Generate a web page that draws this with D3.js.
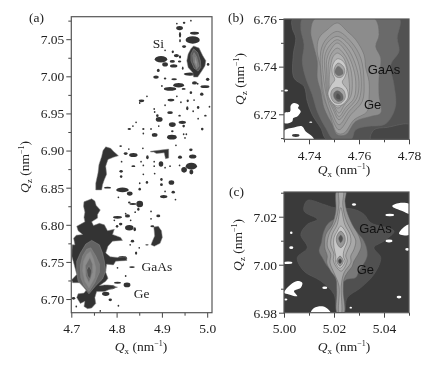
<!DOCTYPE html>
<html>
<head>
<meta charset="utf-8">
<script src="https://cdn.jsdelivr.net/npm/d3@7"></script>
<style>
  html, body { margin: 0; background: #fff; }
  svg { display: block; filter: blur(0.35px); }
  text { font-family: "Liberation Serif", serif; font-size: 13.5px; fill: #222; }
  text.sans { font-family: "Liberation Sans", sans-serif; font-size: 13px; fill: #111; }
</style>
</head>
<body>
<script>
// everything below is [Qx, Qz] or [Qx, Qz, dQx, dQz] in nm^-1

// (a) the two big peaks
var aGaAsOuter = [[4.728,6.831],[4.745,6.835],[4.752,6.832],[4.755,6.826],[4.764,6.820],[4.758,6.814],[4.758,6.809],[4.745,6.804],[4.749,6.799],[4.762,6.802],[4.773,6.800],[4.780,6.792],[4.795,6.794],[4.791,6.787],[4.809,6.783],[4.813,6.779],[4.791,6.778],[4.781,6.771],[4.776,6.762],[4.786,6.757],[4.802,6.756],[4.820,6.757],[4.823,6.752],[4.798,6.751],[4.793,6.746],[4.778,6.747],[4.776,6.736],[4.781,6.728],[4.776,6.724],[4.762,6.718],[4.773,6.719],[4.781,6.719],[4.791,6.718],[4.802,6.716],[4.784,6.713],[4.773,6.710],[4.756,6.710],[4.752,6.702],[4.754,6.694],[4.745,6.688],[4.736,6.687],[4.728,6.690],[4.730,6.697],[4.720,6.694],[4.712,6.702],[4.715,6.707],[4.728,6.708],[4.734,6.713],[4.721,6.722],[4.703,6.722],[4.701,6.726],[4.712,6.733],[4.706,6.747],[4.701,6.758],[4.702,6.773],[4.708,6.773],[4.705,6.782],[4.711,6.786],[4.725,6.787],[4.715,6.792],[4.712,6.798],[4.721,6.801],[4.730,6.804],[4.728,6.810],[4.730,6.817],[4.727,6.825]]
var aGaAs1 = [[4.745,6.779],[4.762,6.773],[4.769,6.762],[4.773,6.751],[4.776,6.738],[4.769,6.727],[4.754,6.718],[4.739,6.707],[4.727,6.716],[4.715,6.724],[4.712,6.736],[4.712,6.751],[4.720,6.762],[4.732,6.774]]
var aGaAs2 = [[4.743,6.769],[4.754,6.758],[4.762,6.747],[4.762,6.736],[4.752,6.722],[4.739,6.710],[4.728,6.718],[4.721,6.729],[4.720,6.745],[4.725,6.758],[4.734,6.767]]
var aGaAs3 = [[4.742,6.764],[4.749,6.754],[4.754,6.742],[4.752,6.729],[4.739,6.715],[4.730,6.724],[4.725,6.738],[4.727,6.751],[4.734,6.760]]
var aGaAs4 = [[4.741,6.756],[4.747,6.747],[4.747,6.736],[4.739,6.722],[4.732,6.731],[4.731,6.745]]
var aGaAs5 = [[4.739,6.745],[4.745,6.738],[4.742,6.727],[4.736,6.731],[4.734,6.739]]
var aCrescent = [[4.776,6.905],[4.787,6.903],[4.793,6.899],[4.804,6.893],[4.793,6.891],[4.781,6.888],[4.776,6.879],[4.778,6.868],[4.773,6.861],[4.769,6.854],[4.767,6.847],[4.754,6.847],[4.754,6.856],[4.759,6.870],[4.761,6.881],[4.767,6.892],[4.770,6.900]]
var aSiOuter = [[4.970,7.041],[4.982,7.038],[4.990,7.028],[4.997,7.021],[4.995,7.014],[4.988,7.007],[4.979,6.999],[4.970,6.999],[4.968,7.005],[4.958,7.012],[4.955,7.021],[4.958,7.030],[4.964,7.037]]
var aSi1 = [[4.970,7.037],[4.979,7.032],[4.985,7.021],[4.986,7.012],[4.980,7.007],[4.971,7.011],[4.964,7.021],[4.964,7.030]]
var aSi2 = [[4.971,7.032],[4.977,7.026],[4.982,7.014],[4.977,7.010],[4.970,7.019],[4.968,7.028]]
var aSi3 = [[4.973,7.026],[4.977,7.019],[4.977,7.013],[4.973,7.019]]
var aShoulder = [[4.882,6.797],[4.892,6.798],[4.899,6.792],[4.901,6.783],[4.896,6.775],[4.883,6.771],[4.876,6.773],[4.879,6.778],[4.884,6.785],[4.883,6.792]]

// (a) the scattered speckle
var aSpots = [[4.939,7.065,.012,.0045],[4.949,7.072,.0045,.0022],[4.933,7.071,.003,.002],[4.964,7.075],[4.940,7.056,.004,.006],[4.940,7.048,.003,.0035],[4.972,7.058,.016,.003],[4.968,7.049,.025,.008],[4.949,7.040,.007,.003],[4.907,7.035],[4.924,7.033,.004,.003],[4.932,7.028,.009,.0035],[4.940,7.026,.004,.003],[4.939,7.020,.006,.002],[4.898,7.023,.022,.007],[4.907,7.016,.010,.0045],[4.923,7.020,.009,.003],[4.926,7.014,.013,.0035],[4.892,7.008,.005,.0035],[4.946,7.011,.003,.0035],[4.887,6.999,.010,.0035],[4.907,6.997,.0045,.002],[4.927,6.996,.010,.002],[4.918,6.983,.022,.004],[4.937,6.988,.019,.005],[4.948,6.983,.007,.002],[4.900,6.987],[4.964,6.978,.0045,.003],[4.972,6.991,.009,.0035],[4.962,7.003,.022,.0035],[4.995,6.986,.016,.003],[4.988,6.976,.006,.0035],[5.001,6.996,.006,.0035],[5.002,7.016,.0045,.003],[4.957,6.967,.004,.003],[4.920,6.968,.012,.003],[4.855,6.967,.010,.003],[4.867,6.973],[4.851,6.964],[4.979,6.990],[4.933,6.973],[4.907,6.961],[4.883,6.956],[4.884,6.952],[4.890,6.947,.0045,.003],[4.918,6.951,.010,.003],[4.939,6.947,.0045,.002],[4.956,6.957,.004,.0045],[4.980,6.958,.0045,.003],[5.005,6.959],[4.996,6.947,.0045,.002],[4.971,6.968],[4.942,6.965],[4.969,6.953],
  [4.894,6.942,.012,.005],[4.923,6.935,.012,.005],[4.945,6.938,.013,.0035],[4.948,6.933,.0045,.003],[4.980,6.943],[4.989,6.929,.0045,.003],[4.828,6.929,.006,.002],[4.836,6.933],[4.843,6.938],[4.859,6.929,.004,.002],[4.859,6.923,.003,.002],[4.876,6.929],[4.884,6.921,.010,.004],[4.923,6.926,.0045,.002],[4.922,6.918,.017,.005],[4.948,6.922],[4.954,6.922],[4.951,6.917],[4.893,6.933],[4.809,6.906,.0045,.002],[4.820,6.896,.007,.003],[4.837,6.894,.015,.0045],[4.827,6.902],[4.858,6.903],[4.868,6.891,.0045,.0045],[4.854,6.885],[4.837,6.879,.007,.002],[4.811,6.885],[4.810,6.872,.006,.003],[4.810,6.865,.0045,.003],[4.859,6.880],[4.859,6.868],[4.898,6.882,.008,.006],[4.883,6.885],[4.883,6.879],[4.907,6.877],[4.918,6.879],[4.884,6.869],[4.931,6.907],[4.940,6.891,.007,.0035],[4.964,6.901,.006,.003],[4.968,6.892,.013,.0045],[4.939,6.880],[4.949,6.874,.010,.006],[4.965,6.871,.007,.005],[4.965,6.879,.02,.0075],[4.780,6.850,.012,.002],[4.813,6.847,.022,.005],[4.829,6.842,.010,.0045],[4.804,6.837],[4.851,6.848,.0045,.003],[4.867,6.857,.0045,.003],[4.851,6.856],[4.899,6.861,.0045,.003],[4.899,6.854,.005,.003],[4.921,6.857,.010,.005],[4.907,6.845],[4.925,6.844,.006,.003],[4.904,6.838,.013,.0035],[4.930,6.834],[4.828,6.830,.0045,.002],[4.836,6.828,.012,.002],[4.851,6.828,.012,.007],[4.848,6.821,.004,.0035],[4.841,6.817],[4.876,6.818],[4.820,6.815],
  [4.802,6.810,.016,.003],[4.824,6.812,.009,.0035],[4.831,6.806],[4.809,6.801,.006,.003],[4.828,6.796,.015,.006],[4.840,6.794,.0045,.0045],[4.801,6.798,.0045,.003],[4.795,6.806],[4.835,6.778,.006,.003],[4.830,6.773],[4.850,6.769],[4.867,6.773,.006,.0015],[4.879,6.798,.007,.002],[4.876,6.808],[4.892,6.812,.007,.003],[4.843,6.762,.004,.0035],[4.813,6.755,.016,.005],[4.834,6.743,.010,.002],[4.802,6.742],[4.820,6.731],[4.802,6.722,.012,.002],[4.787,6.716,.015,.0045],[4.823,6.719,.012,.005],[4.776,6.707,.013,.0045],[4.786,6.699,.006,.003],[4.705,6.701,.006,.003],[4.711,6.690],[4.764,6.684],[4.804,6.691]]
// thin two-line streak near 6.90
var aStreak = [[4.875,6.899],[4.915,6.902],[4.915,6.890],[4.908,6.889],[4.905,6.897],[4.888,6.896],[4.882,6.898],[4.875,6.898]]

var aLevels = [aGaAsOuter, aCrescent, aShoulder, aStreak, aSiOuter, aGaAs1, aSi1, aGaAs2, aSi2, aGaAs3, aSi3, aGaAs4, aGaAs5]
var aGreys = ['#333', '#333', '#333', '#333', '#333', '#636363', '#5a5a5a', '#7a7a7a', '#777', '#8c8c8c', '#999', '#6e6e6e', '#4d4d4d']

// (b) contour levels, outermost first
var b1 = [[4.7337,6.7604],[4.7333,6.7562],[4.7347,6.7520],[4.7337,6.7450],[4.7340,6.7352],[4.7380,6.7317],[4.7393,6.7254],[4.7413,6.7198],[4.7447,6.7142],[4.7473,6.7092],[4.7804,6.7092],[4.7804,6.7604]]
var bCorner = [[4.7647,6.7092],[4.7660,6.7135],[4.7713,6.7145],[4.7804,6.7156],[4.7804,6.7092]]
var b2 = [[4.7377,6.7604],[4.7367,6.7562],[4.7380,6.7492],[4.7373,6.7422],[4.7387,6.7352],[4.7413,6.7282],[4.7433,6.7212],[4.7467,6.7142],[4.7500,6.7092],[4.7567,6.7092],[4.7587,6.7135],[4.7633,6.7149],[4.7700,6.7156],[4.7727,6.7184],[4.7747,6.7240],[4.7740,6.7324],[4.7727,6.7408],[4.7760,6.7464],[4.7753,6.7520],[4.7760,6.7604]]
var b3 = [[4.7427,6.7604],[4.7407,6.7548],[4.7417,6.7492],[4.7433,6.7422],[4.7433,6.7352],[4.7447,6.7296],[4.7460,6.7226],[4.7493,6.7156],[4.7513,6.7114],[4.7547,6.7114],[4.7587,6.7170],[4.7647,6.7191],[4.7687,6.7205],[4.7680,6.7282],[4.7680,6.7352],[4.7687,6.7436],[4.7667,6.7485],[4.7680,6.7534],[4.7660,6.7604]]
var b4 = [[4.7513,6.7583],[4.7473,6.7555],[4.7440,6.7520],[4.7433,6.7464],[4.7447,6.7394],[4.7453,6.7296],[4.7480,6.7212],[4.7513,6.7121],[4.7540,6.7121],[4.7580,6.7177],[4.7633,6.7212],[4.7640,6.7268],[4.7640,6.7338],[4.7627,6.7394],[4.7620,6.7450],[4.7587,6.7513],[4.7553,6.7548]]
var b5 = [[4.7513,6.7548],[4.7567,6.7506],[4.7607,6.7436],[4.7620,6.7338],[4.7613,6.7254],[4.7567,6.7198],[4.7520,6.7135],[4.7487,6.7198],[4.7463,6.7268],[4.7449,6.7366],[4.7447,6.7464],[4.7467,6.7513]]
var b6 = [[4.7513,6.7527],[4.7560,6.7492],[4.7596,6.7422],[4.7609,6.7338],[4.7600,6.7261],[4.7560,6.7212],[4.7520,6.7156],[4.7493,6.7205],[4.7471,6.7275],[4.7457,6.7366],[4.7455,6.7450],[4.7473,6.7499]]
var b7 = [[4.7513,6.7513],[4.7553,6.7478],[4.7584,6.7415],[4.7600,6.7338],[4.7591,6.7268],[4.7553,6.7219],[4.7520,6.7177],[4.7497,6.7219],[4.7473,6.7282],[4.7465,6.7366],[4.7463,6.7443],[4.7480,6.7485]]
var b8 = [[4.7513,6.7499],[4.7547,6.7464],[4.7573,6.7408],[4.7587,6.7338],[4.7580,6.7268],[4.7547,6.7229],[4.7520,6.7191],[4.7500,6.7226],[4.7476,6.7289],[4.7471,6.7366],[4.7471,6.7429],[4.7487,6.7471]]
var b9 = [[4.7513,6.7478],[4.7540,6.7453],[4.7564,6.7401],[4.7573,6.7338],[4.7567,6.7275],[4.7540,6.7237],[4.7520,6.7205],[4.7500,6.7237],[4.7480,6.7289],[4.7476,6.7359],[4.7479,6.7422],[4.7491,6.7457]]
var b10 = [[4.7513,6.7457],[4.7537,6.7439],[4.7553,6.7394],[4.7560,6.7345],[4.7560,6.7282],[4.7540,6.7247],[4.7516,6.7226],[4.7497,6.7243],[4.7484,6.7282],[4.7481,6.7352],[4.7487,6.7408],[4.7497,6.7443]]
var bPeanut = [[4.7513,6.7433],[4.7537,6.7422],[4.7551,6.7387],[4.7543,6.7355],[4.7533,6.7335],[4.7553,6.7303],[4.7556,6.7268],[4.7533,6.7240],[4.7507,6.7237],[4.7484,6.7261],[4.7476,6.7289],[4.7489,6.7324],[4.7503,6.7345],[4.7493,6.7373],[4.7495,6.7408]]
var bUpper = [[4.7516,6.7415],[4.7537,6.7401],[4.7543,6.7377],[4.7529,6.7355],[4.7507,6.7359],[4.7500,6.7387]]
var bLower = [[4.7511,6.7313],[4.7537,6.7303],[4.7545,6.7271],[4.7527,6.7247],[4.7500,6.7251],[4.7487,6.7279],[4.7493,6.7303]]
var bUpperCore = [[4.7516,6.7401],[4.7533,6.7387],[4.7535,6.7369],[4.7516,6.7363],[4.7504,6.7377]]
var bLowerCore = [[4.7513,6.7299],[4.7533,6.7285],[4.7535,6.7261],[4.7516,6.7254],[4.7500,6.7271],[4.7500,6.7289]]
var bCentre = [[4.7513,6.7288],[4.7527,6.7276],[4.7524,6.7261],[4.7508,6.7268]]
var bWhite1 = [[4.7300,6.7205],[4.7324,6.7212],[4.7327,6.7237],[4.7340,6.7247],[4.7360,6.7237],[4.7356,6.7226],[4.7367,6.7212],[4.7353,6.7191],[4.7337,6.7184],[4.7333,6.7170],[4.7300,6.7163]]
var bWhite2 = [[4.7300,6.7131],[4.7340,6.7145],[4.7373,6.7149],[4.7387,6.7128],[4.7413,6.7107],[4.7420,6.7092],[4.7300,6.7092]]

var bLevels = [b1, bCorner, b2, b3, b4, b5, b6, b7, b8, b9, b10, bPeanut, bUpper, bLower, bUpperCore, bLowerCore, bCentre, bWhite1, bWhite2]
var bGreys = ['#525252', '#464646', '#6a6a6a', '#8c8c8c', '#9e9e9e', '#9a9a9a', '#a2a2a2', '#9e9e9e', '#a6a6a6', '#a2a2a2', '#b0b0b0', '#cacaca', '#a6a6a6', '#a6a6a6', '#707070', '#686868', '#505050', '#fff', '#fff']
var bWhiteSpots = [[4.7308,6.7300,.0016,.0008],[4.7407,6.7167,.0012,.0006]]
var bDarkSpots = [[4.7347,6.7111,.003,.0012]]

// (c) contour levels, outermost first
var c1 = [[5.0093,7.0268],[5.0160,7.0251],[5.0200,7.0238],[5.0280,7.0231],[5.0320,7.0210],[5.0347,7.0175],[5.0440,7.0140],[5.0400,7.0099],[5.0360,7.0071],[5.0387,7.0029],[5.0360,6.9960],[5.0307,6.9904],[5.0253,6.9862],[5.0240,6.9798],[5.0213,6.9798],[5.0200,6.9876],[5.0147,6.9932],[5.0080,6.9973],[5.0053,7.0029],[5.0093,7.0071],[5.0067,7.0126],[5.0093,7.0168],[5.0133,7.0189],[5.0080,7.0224]]
var c2 = [[5.0200,7.0189],[5.0173,7.0168],[5.0157,7.0133],[5.0149,7.0092],[5.0140,7.0057],[5.0153,7.0029],[5.0173,6.9994],[5.0200,6.9966],[5.0220,6.9918],[5.0253,6.9939],[5.0287,6.9946],[5.0300,6.9973],[5.0333,7.0036],[5.0320,7.0099],[5.0287,7.0140],[5.0260,7.0175],[5.0240,7.0203]]
var c3 = [[5.0211,7.0307],[5.0247,7.0307],[5.0244,7.0265],[5.0251,7.0224],[5.0273,7.0168],[5.0300,7.0119],[5.0309,7.0078],[5.0296,7.0043],[5.0280,7.0015],[5.0273,6.9994],[5.0253,6.9966],[5.0240,6.9939],[5.0237,6.9890],[5.0240,6.9798],[5.0213,6.9798],[5.0211,6.9890],[5.0207,6.9943],[5.0187,6.9973],[5.0171,7.0008],[5.0173,7.0036],[5.0163,7.0071],[5.0167,7.0126],[5.0193,7.0168],[5.0207,7.0224]]
var c4 = [[5.0220,7.0307],[5.0237,7.0307],[5.0235,7.0251],[5.0247,7.0189],[5.0273,7.0133],[5.0287,7.0099],[5.0280,7.0064],[5.0267,7.0036],[5.0267,7.0008],[5.0240,6.9966],[5.0229,6.9911],[5.0229,6.9798],[5.0220,6.9798],[5.0220,6.9911],[5.0200,6.9966],[5.0184,7.0008],[5.0187,7.0043],[5.0173,7.0078],[5.0180,7.0126],[5.0207,7.0182],[5.0220,7.0251]]
var c5 = [[5.0227,7.0238],[5.0243,7.0168],[5.0264,7.0126],[5.0267,7.0092],[5.0253,7.0057],[5.0247,7.0036],[5.0253,7.0015],[5.0229,6.9973],[5.0207,6.9994],[5.0197,7.0022],[5.0200,7.0043],[5.0187,7.0085],[5.0193,7.0126],[5.0213,7.0168]]
var c6 = [[5.0227,7.0161],[5.0251,7.0126],[5.0253,7.0096],[5.0240,7.0060],[5.0237,7.0036],[5.0244,7.0012],[5.0224,6.9985],[5.0207,7.0008],[5.0207,7.0036],[5.0200,7.0071],[5.0200,7.0112],[5.0213,7.0140]]
var cUpper = [[5.0227,7.0140],[5.0243,7.0119],[5.0243,7.0092],[5.0227,7.0071],[5.0211,7.0092],[5.0211,7.0119]]
var cUpperCore = [[5.0227,7.0123],[5.0235,7.0110],[5.0227,7.0092],[5.0219,7.0110]]
var cLower = [[5.0224,7.0036],[5.0237,7.0015],[5.0224,6.9994],[5.0211,7.0015]]
var cLowerCore = [[5.0224,7.0025],[5.0231,7.0015],[5.0224,7.0004],[5.0217,7.0015]]
var cWhite1 = [[5,6.9883],[5.0007,6.9897],[5.0027,6.9918],[5.0053,6.9932],[5.0073,6.9925],[5.0067,6.9904],[5.0040,6.9890],[5.0053,6.9869],[5.0020,6.9876]]
var cWhite2 = [[5.0107,6.9798],[5.0120,6.9820],[5.0153,6.9827],[5.0173,6.9818],[5.0187,6.9798]]
var cWhite3 = [[5.0433,7.0244],[5.0467,7.0258],[5.0504,7.0251],[5.0504,7.0212],[5.0473,7.0224]]
var cWhite4 = [[5.0460,7.0129],[5.0480,7.0157],[5.0504,7.0168],[5.0504,7.0126],[5.0477,7.0123]]

var cLevels = [c1, c2, c3, c4, c5, c6, cUpper, cUpperCore, cLower, cLowerCore, cWhite1, cWhite2, cWhite3, cWhite4]
var cGreys = ['#505050', '#787878', '#979797', '#a8a8a8', '#b2b2b2', '#c6c6c6', '#979797', '#505050', '#979797', '#444', '#fff', '#fff', '#fff', '#fff']
var cWhiteSpots = [[5.0423,7.0207,.0035,.001],[5.0420,7.0099,.0027,.0012],[5.0029,7.0133,.001,.0011],[5.0029,7.0071,.0016,.0011],[5.0016,7.0008,.0035,.001],[5.0163,6.9904,.002,.001],[5.0280,7.0251,.0016,.001],[5.0460,6.9865,.0019,.0011],[5.0007,6.9855,.0013,.0008],[5.0493,7.0064,.0016,.0011],[5.0267,6.9821,.001,.0007]]

// ticks
var aXMajor = [4.7, 4.8, 4.9, 5.0], aXMinor = [4.75, 4.85, 4.95]
var aYMajor = [6.70, 6.75, 6.80, 6.85, 6.90, 6.95, 7.00, 7.05], aYMinor = [6.725, 6.775, 6.825, 6.875, 6.925, 6.975, 7.025, 7.075]
var bXMajor = [4.74, 4.76, 4.78], bXMinor = [4.73, 4.75, 4.77]
var bYMajor = [6.72, 6.74, 6.76], bYMinor = [6.71, 6.73, 6.75]
var cXMajor = [5.00, 5.02, 5.04], cXMinor = [5.01, 5.03, 5.05]
var cYMajor = [6.98, 7.00, 7.02], cYMinor = [6.99, 7.01, 7.03]

var aLabels = [['Si', 4.880, 7.038], ['GaAs', 4.855, 6.7375], ['Ge', 4.838, 6.701]]
var bLabels = [['GaAs', 4.7635, 6.7369], ['Ge', 4.762, 6.7222]]
var cLabels = [['GaAs', 5.0301, 7.0132], ['Ge', 5.0291, 6.9963]]

var svg = d3.select('body').append('svg').attr('width', 432).attr('height', 365)

function drawPanel(p) {
  var x = d3.scaleLinear().domain(p.xDomain).range([p.left, p.right])
  var y = d3.scaleLinear().domain(p.yDomain).range([p.bottom, p.top])
  var g = svg.append('g')

  var clipId = 'clip-' + p.name
  g.append('clipPath').attr('id', clipId).append('rect')
    .attr('x', p.left).attr('y', p.top)
    .attr('width', p.right - p.left).attr('height', p.bottom - p.top)

  var plot = g.append('g').attr('clip-path', `url(#${clipId})`)
  plot.append('rect')
    .attr('x', p.left).attr('y', p.top)
    .attr('width', p.right - p.left).attr('height', p.bottom - p.top)
    .attr('fill', p.background)

  var line = d3.line().x(d => x(d[0])).y(d => y(d[1])).curve(p.curve)

  // speckle is irregular, the ellipses need a little extra area to cover the same ground
  function spots(data, fill, grow) {
    plot.selectAll(null).data(data).enter().append('ellipse')
      .attr('cx', d => x(d[0]))
      .attr('cy', d => y(d[1]))
      .attr('rx', d => grow * Math.abs(x(d[0] + (d[2] || .003) / 2) - x(d[0])))
      .attr('ry', d => grow * Math.abs(y(d[1] + (d[3] || .002) / 2) - y(d[1])))
      .attr('fill', fill)
  }

  if (p.spots) spots(p.spots, p.spotFill, 1.25)

  plot.selectAll(null).data(p.levels).enter().append('path')
    .attr('d', line)
    .attr('fill', (d, i) => p.greys[i])
    .attr('stroke', (d, i) => p.greys[i] == '#fff' ? 'none' : p.lineColor)
    .attr('stroke-width', 0.5)

  if (p.whiteSpots) spots(p.whiteSpots, '#fff', 1)
  if (p.darkSpots) spots(p.darkSpots, '#3a3a3a', 1)

  // axes, minor ticks first so the major ones sit on top
  var xAxis = d3.axisBottom(x).tickValues(p.xMajor).tickFormat(d3.format(p.xFormat)).tickSize(5).tickSizeOuter(0).tickPadding(6)
  var xMinor = d3.axisBottom(x).tickValues(p.xMinor).tickFormat('').tickSize(3).tickSizeOuter(0)
  var yAxis = d3.axisLeft(y).tickValues(p.yMajor).tickFormat(d3.format('.2f')).tickSize(5).tickSizeOuter(0).tickPadding(2)
  var yMinor = d3.axisLeft(y).tickValues(p.yMinor).tickFormat('').tickSize(3).tickSizeOuter(0)

  ;[[xMinor, 'x'], [xAxis, 'x'], [yMinor, 'y'], [yAxis, 'y']].forEach(a => {
    var ax = g.append('g')
      .attr('transform', a[1] == 'x' ? `translate(0,${p.bottom})` : `translate(${p.left},0)`)
      .call(a[0])
    ax.select('.domain').remove()
    ax.selectAll('line').attr('stroke', '#444').attr('stroke-width', 1)
    ax.selectAll('text').attr('font-size', null).attr('font-family', null).attr('fill', null)
  })

  g.append('rect')
    .attr('x', p.left).attr('y', p.top)
    .attr('width', p.right - p.left).attr('height', p.bottom - p.top)
    .attr('fill', 'none').attr('stroke', '#555').attr('stroke-width', 1.2)

  g.selectAll(null).data(p.labels).enter().append('text')
    .attr('class', p.labelClass)
    .attr('x', d => x(d[1]))
    .attr('y', d => y(d[2]))
    .text(d => d[0])

  g.append('text').attr('x', p.tagX).attr('y', p.tagY).text(p.tag)

  axisTitle(g, 'x', p.xTitleX, p.xTitleY, 0)
  axisTitle(g, 'z', p.yTitleX, p.yTitleY, -90)
}

function axisTitle(g, sub, cx, cy, rot) {
  var t = g.append('text')
    .attr('text-anchor', 'middle')
    .attr('transform', `translate(${cx},${cy}) rotate(${rot})`)
  t.append('tspan').attr('font-style', 'italic').text('Q')
  t.append('tspan').attr('dy', 3).attr('font-size', 9).text(sub)
  t.append('tspan').attr('dy', -3).text(' (nm')
  t.append('tspan').attr('dy', -5).attr('font-size', 8).text('\u22121')
  t.append('tspan').attr('dy', 5).text(')')
}

drawPanel({
  name: 'a', tag: '(a)', tagX: 29, tagY: 22,
  left: 71.3, right: 212, top: 16.7, bottom: 312.7,
  xDomain: [4.7, 5.0106], yDomain: [6.6816, 7.0803],
  background: '#fff', levels: aLevels, greys: aGreys, spots: aSpots, spotFill: '#333',
  curve: d3.curveLinearClosed, lineColor: '#8a8a8a',
  xMajor: aXMajor, xMinor: aXMinor, xFormat: '.1f', yMajor: aYMajor, yMinor: aYMinor,
  labels: aLabels, labelClass: null,
  xTitleX: 141, xTitleY: 351, yTitleX: 29, yTitleY: 167
})

drawPanel({
  name: 'b', tag: '(b)', tagX: 228, tagY: 22,
  left: 284, right: 409, top: 19, bottom: 139.3,
  xDomain: [4.73, 4.78], yDomain: [6.7095, 6.76],
  background: '#393939', levels: bLevels, greys: bGreys, whiteSpots: bWhiteSpots, darkSpots: bDarkSpots,
  curve: d3.curveCatmullRomClosed, lineColor: '#6a6a6a',
  xMajor: bXMajor, xMinor: bXMinor, xFormat: '.2f', yMajor: bYMajor, yMinor: bYMinor,
  labels: bLabels, labelClass: 'sans',
  xTitleX: 344, xTitleY: 174, yTitleX: 244, yTitleY: 79
})

drawPanel({
  name: 'c', tag: '(c)', tagX: 229, tagY: 196,
  left: 284, right: 409, top: 192, bottom: 312.7,
  xDomain: [5.0, 5.05], yDomain: [6.98, 7.0303],
  background: '#3a3a3a', levels: cLevels, greys: cGreys, whiteSpots: cWhiteSpots,
  curve: d3.curveCatmullRomClosed, lineColor: '#5e5e5e',
  xMajor: cXMajor, xMinor: cXMinor, xFormat: '.2f', yMajor: cYMajor, yMinor: cYMinor,
  labels: cLabels, labelClass: 'sans',
  xTitleX: 344, xTitleY: 351, yTitleX: 242, yTitleY: 245
})
</script>
</body>
</html>
